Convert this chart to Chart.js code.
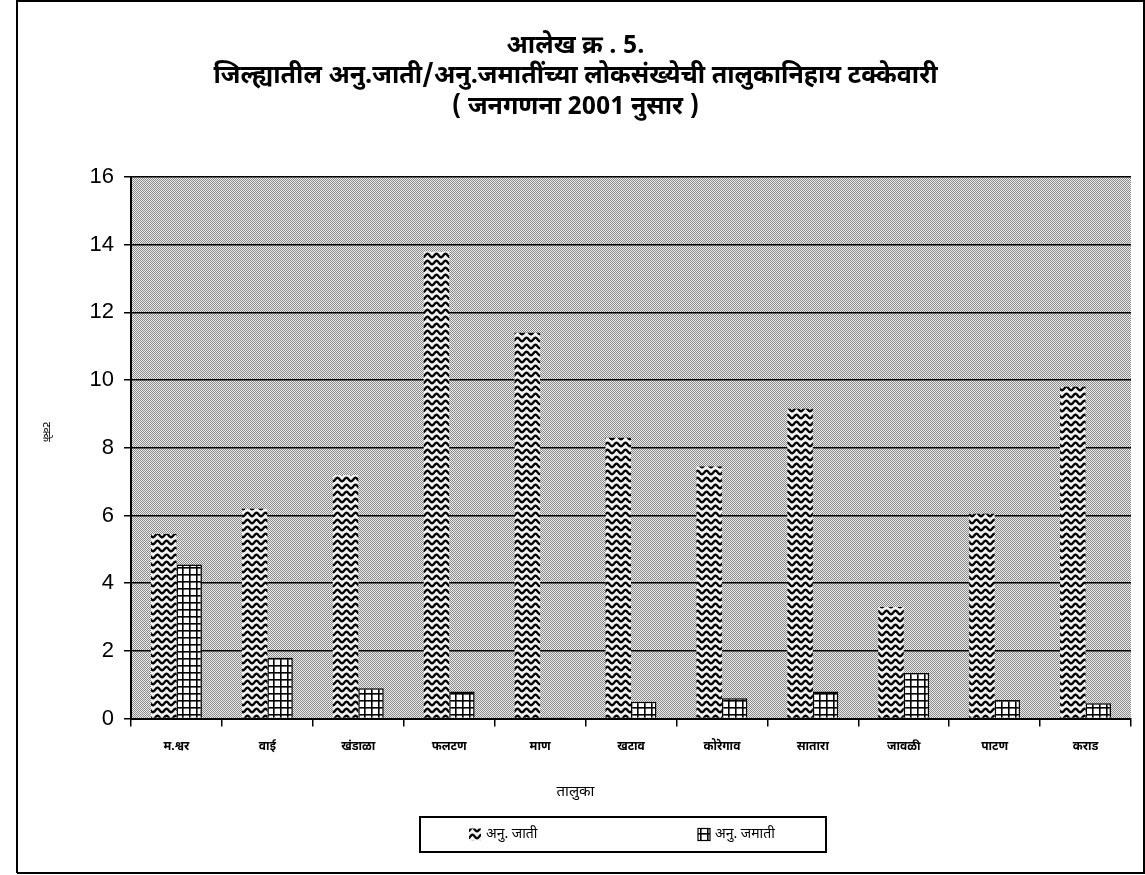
<!DOCTYPE html>
<html>
<head>
<meta charset="utf-8">
<script src="https://cdn.jsdelivr.net/npm/chart.js@4.4.1/dist/chart.umd.min.js"></script>
<style>
  html, body { margin: 0; padding: 0; background: #ffffff; }
  #wrap { width: 1145px; height: 875px; position: relative; }
</style>
</head>
<body>
<div id="wrap"><canvas id="c" width="1145" height="875"></canvas></div>
<script>
// ---- data ----
const titleLines = ['आलेख क्र . 5.', 'जिल्ह्यातील अनु.जाती/अनु.जमातींच्या लोकसंख्येची तालुकानिहाय टक्केवारी', '( जनगणना 2001 नुसार )'];
const categories = ['म.श्वर', 'वाई', 'खंडाळा', 'फलटण', 'माण', 'खटाव', 'कोरेगाव', 'सातारा', 'जावळी', 'पाटण', 'कराड'];
const seriesNames = ['अनु. जाती', 'अनु. जमाती'];
const scValues = [5.45, 6.2, 7.2, 13.8, 11.4, 8.3, 7.45, 9.15, 3.3, 6.05, 9.8];
const stValues = [4.55, 1.8, 0.9, 0.8, 0.04, 0.5, 0.6, 0.8, 1.35, 0.55, 0.45];
const xTitle = 'तालुका';
const yTitle = 'टक्के';
const yMin = 0, yMax = 16, yStep = 2;

const DEV = '"Noto Sans Devanagari", "Noto Serif Devanagari", "Lohit Devanagari", "FreeSerif", "Noto Sans", sans-serif';
const LAT = '"Liberation Sans", Arial, sans-serif';

// ---- patterns ----
function makeTile(w, h, draw) {
  const c = document.createElement('canvas');
  c.width = w; c.height = h;
  const g = c.getContext('2d');
  draw(g, w, h);
  return c;
}
const ctx = document.getElementById('c').getContext('2d');
const dotTile = makeTile(2, 2, (g) => {
  g.fillStyle = '#ececec'; g.fillRect(0, 0, 2, 2);
  g.fillStyle = '#8a8a8a';
  g.fillRect(0, 0, 1, 1); g.fillRect(1, 1, 1, 1);
});
const dotPattern = ctx.createPattern(dotTile, 'repeat');
const zigTile = makeTile(9, 7, (g, w, h) => {
  g.fillStyle = '#f2f2f2'; g.fillRect(0, 0, w, h);
  g.strokeStyle = '#000'; g.lineWidth = 2.3;
  g.beginPath();
  for (let x = -1; x <= w + 1; x += 0.5) {
    const y = 3.5 + 1.8 * Math.cos(2 * Math.PI * x / w);
    if (x === -1) g.moveTo(x, y); else g.lineTo(x, y);
  }
  g.stroke();
});
const zigPattern = ctx.createPattern(zigTile, 'repeat');
const gridTile = makeTile(7, 7, (g, w, h) => {
  g.fillStyle = '#ffffff'; g.fillRect(0, 0, w, h);
  g.fillStyle = '#000';
  g.fillRect(0, 0, w, 1.6);
  g.fillRect(0, 0, 1.6, h);
});
const gridPattern = ctx.createPattern(gridTile, 'repeat');

// ---- plugins ----
const decor = {
  id: 'decor',
  beforeDraw(chart) {
    const c = chart.ctx, a = chart.chartArea;
    c.save();
    c.fillStyle = dotPattern;
    c.fillRect(a.left, a.top, a.right - a.left, a.bottom - a.top);
    // outer frame
    c.strokeStyle = '#000'; c.lineWidth = 2;
    c.beginPath();
    c.moveTo(17, 873); c.lineTo(17, 1); c.lineTo(1144, 1); c.lineTo(1144, 873); c.lineTo(17, 873);
    c.stroke();
    c.restore();
  },
  afterDraw(chart) {
    const c = chart.ctx;
    c.save();
    // y axis title rotated clockwise
    c.translate(45, 432);
    c.rotate(Math.PI / 2);
    c.fillStyle = '#000';
    c.font = '11px ' + DEV;
    c.textAlign = 'center'; c.textBaseline = 'middle';
    c.fillText(yTitle, 0, 0);
    c.restore();

    // legend (frame + items)
    const box = { left: 420, top: 817, right: 826, bottom: 852 };
    const itemX = [469, 698];
    const cy = (box.top + box.bottom) / 2;
    c.save();
    c.strokeStyle = '#000'; c.lineWidth = 2;
    c.strokeRect(box.left, box.top, box.right - box.left, box.bottom - box.top);
    chart.data.datasets.forEach((ds, i) => {
      const x = itemX[i];
      c.fillStyle = ds.backgroundColor;
      c.fillRect(x, cy - 6, 12, 12);
      if (ds.borderWidth) {
        c.strokeStyle = '#000'; c.lineWidth = 1.2;
        c.strokeRect(x, cy - 6, 12, 12);
      }
      c.fillStyle = '#000';
      c.font = '14px ' + DEV;
      c.textAlign = 'left'; c.textBaseline = 'middle';
      c.fillText(ds.label, x + 17, cy + 1);
    });
    c.restore();
  }
};

new Chart(ctx, {
  type: 'bar',
  data: {
    labels: categories,
    datasets: [
      { label: seriesNames[0], data: scValues, backgroundColor: zigPattern, borderWidth: 0,
        categoryPercentage: 0.56, barPercentage: 1.0 },
      { label: seriesNames[1], data: stValues, backgroundColor: gridPattern, borderColor: '#000', borderWidth: 1.5,
        categoryPercentage: 0.56, barPercentage: 1.0 }
    ]
  },
  options: {
    responsive: false,
    animation: false,
    devicePixelRatio: 1,
    layout: { padding: { left: 20, right: 14, top: 0, bottom: 58 } },
    plugins: {
      title: {
        display: true, text: titleLines, color: '#000',
        font: { family: DEV, size: 25, weight: 'bold', lineHeight: 1.22 },
        padding: { top: 33, bottom: 52.5 }
      },
      subtitle: {
        display: true, text: xTitle, position: 'bottom', color: '#000',
        font: { family: DEV, size: 15, weight: 'normal' },
        padding: { top: 15, bottom: 15 }
      },
      legend: { display: false },
      tooltip: { enabled: false }
    },
    scales: {
      x: {
        offset: true,
        grid: { display: true, drawOnChartArea: false, drawTicks: true, tickLength: 8, color: '#000', lineWidth: 1.5, offset: true },
        border: { display: true, color: '#000', width: 2 },
        ticks: { color: '#000', font: { family: DEV, size: 12, weight: 'bold' }, padding: 14, maxRotation: 0 }
      },
      y: {
        min: yMin, max: yMax,
        grid: { color: '#000', lineWidth: 1.5, tickLength: 7, drawTicks: true },
        border: { display: true, color: '#000', width: 2 },
        ticks: { stepSize: yStep, color: '#000', font: { family: LAT, size: 22 }, padding: 10 },
        afterFit(scale) { scale.width = 111; }
      }
    }
  },
  plugins: [decor]
});
</script>
</body>
</html>
